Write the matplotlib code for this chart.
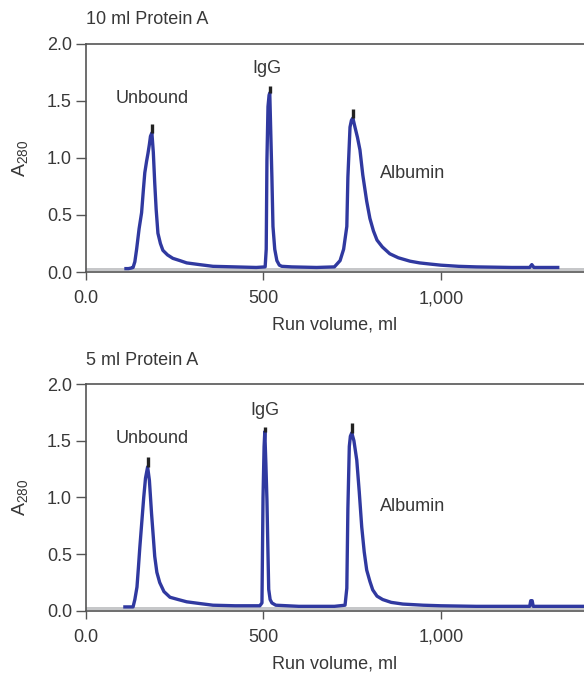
import matplotlib
matplotlib.use("Agg")
import matplotlib.pyplot as plt

plt.rcParams['font.family'] = ['Liberation Sans', 'DejaVu Sans']

# Data (run volume in ml, A280)
top_vol = [113, 120, 128, 133, 138, 143, 150, 157, 162, 166, 171, 175, 179, 182, 186,
           190, 194, 198, 203, 210, 217, 230, 245, 265, 284, 320, 358, 420, 480,
           505, 508, 510, 513, 516, 518, 521, 524, 527, 532, 538, 545, 552, 580,
           650, 700, 716, 726, 735, 738, 741, 744, 748, 752, 758, 765, 772, 780,
           791, 800, 810, 820, 835, 856, 880, 913, 940, 969, 1000, 1050, 1100,
           1200, 1250, 1256, 1262, 1300, 1329]
top_abs = [0.03, 0.03, 0.035, 0.04, 0.09, 0.2, 0.38, 0.52, 0.72, 0.87, 0.97, 1.04, 1.12, 1.19, 1.22,
           1.05, 0.78, 0.55, 0.34, 0.25, 0.19, 0.15, 0.12, 0.1, 0.08, 0.065, 0.05, 0.045, 0.04,
           0.045, 0.2, 0.98, 1.45, 1.55, 1.57, 1.2, 0.83, 0.4, 0.2, 0.1, 0.06, 0.05, 0.045,
           0.04, 0.045, 0.1, 0.2, 0.4, 0.83, 1.05, 1.27, 1.33, 1.35, 1.27, 1.18, 1.07, 0.85,
           0.62, 0.47, 0.36, 0.28, 0.22, 0.16, 0.125, 0.095, 0.08, 0.07, 0.06, 0.05, 0.045,
           0.04, 0.04, 0.065, 0.04, 0.04, 0.04]

bot_vol = [110, 125, 133, 138, 144, 148, 152, 158, 163, 168, 174, 179, 185, 190, 194,
           200, 208, 220, 237, 260, 284, 320, 358, 420, 490, 496, 499, 502, 504, 507,
           510, 513, 515, 519, 524, 535, 600, 700, 730, 735, 738, 742, 745, 749, 755,
           763, 770, 777, 784, 791, 800, 808, 820, 836, 860, 893, 950, 1000, 1100,
           1250, 1253, 1257, 1260, 1300, 1403]
bot_abs = [0.035, 0.035, 0.035, 0.1, 0.21, 0.38, 0.56, 0.8, 1.0, 1.17, 1.27, 1.15, 0.86, 0.65, 0.48,
           0.34, 0.25, 0.17, 0.12, 0.1, 0.08, 0.065, 0.05, 0.045, 0.045, 0.07, 1.0, 1.45, 1.58, 1.3,
           0.98, 0.5, 0.19, 0.1, 0.07, 0.05, 0.04, 0.04, 0.05, 0.2, 0.9, 1.45, 1.54, 1.57, 1.5,
           1.33, 1.05, 0.74, 0.52, 0.36, 0.26, 0.185, 0.13, 0.1, 0.075, 0.06, 0.05, 0.045, 0.04,
           0.04, 0.09, 0.09, 0.04, 0.04, 0.04]

# peak markers: position, peak top, marker top
top_peak_x = [186, 518, 752]
top_peak_lo = [1.22, 1.57, 1.35]
top_peak_hi = [1.30, 1.63, 1.43]
bot_peak_x = [174, 504, 749]
bot_peak_lo = [1.27, 1.58, 1.57]
bot_peak_hi = [1.36, 1.62, 1.66]

labels = ["Unbound", "IgG", "Albumin"]
top_label_pos = [(186, 1.52), (510, 1.78), (921, 0.86)]
bot_label_pos = [(186, 1.52), (505, 1.77), (921, 0.92)]

titles = ["10 ml Protein A", "5 ml Protein A"]
x_ticks = [0, 500, 1000]
x_tick_labels = ["0.0", "500", "1,000"]
y_ticks = [0, 0.5, 1.0, 1.5, 2.0]
y_tick_labels = ["0.0", "0.5", "1.0", "1.5", "2.0"]

LINE = '#3039a0'
TXT = '#383838'
SPINE = '#555555'
FS = 13

fig = plt.figure(figsize=(5.84, 6.75), dpi=100)
ax_top = fig.add_axes([0.147, 0.597, 0.853, 0.338])
ax_bot = fig.add_axes([0.147, 0.095, 0.853, 0.336])

panels = [
    (ax_top, top_vol, top_abs, top_peak_x, top_peak_lo, top_peak_hi, top_label_pos, titles[0]),
    (ax_bot, bot_vol, bot_abs, bot_peak_x, bot_peak_lo, bot_peak_hi, bot_label_pos, titles[1]),
]

for ax, vol, absb, px, plo, phi, lpos, title in panels:
    ax.axhspan(0.005, 0.035, color='#c6c7c9', lw=0, zorder=1)
    ax.plot(vol, absb, color=LINE, lw=2.4, solid_joinstyle='round', zorder=3)
    ax.vlines(px, plo, phi, color='#222222', lw=2.4, zorder=4)
    for lab, (lx, ly) in zip(labels, lpos):
        ax.text(lx, ly, lab, ha='center', va='center', fontsize=FS, color=TXT)

    ax.set_xlim(0, 1403)
    ax.set_ylim(0, 2.0)
    ax.set_xticks(x_ticks)
    ax.set_xticklabels(x_tick_labels)
    ax.set_yticks(y_ticks)
    ax.set_yticklabels(y_tick_labels)
    ax.tick_params(colors=SPINE, labelcolor=TXT, labelsize=FS, width=1.0, length=6)
    ax.tick_params(axis='x', pad=7)
    ax.tick_params(axis='y', length=7, pad=3)
    for side in ['left', 'bottom', 'top']:
        ax.spines[side].set_color(SPINE)
        ax.spines[side].set_linewidth(1.2)
    ax.spines['right'].set_visible(False)

    ax.set_xlabel("Run volume, ml", fontsize=FS, color=TXT, labelpad=7)
    ax.set_ylabel(r"$\mathregular{A_{280}}$", fontsize=FS + 1, color=TXT, labelpad=12)
    ax.set_title(title, loc='left', fontsize=FS, color=TXT, pad=14)

fig.savefig("out.png", dpi=100)
